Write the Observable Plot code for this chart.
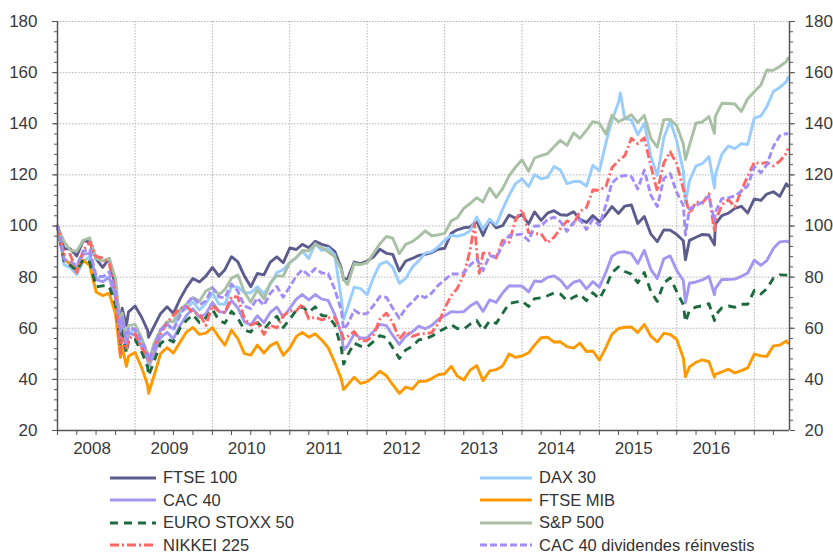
<!DOCTYPE html>
<html><head><meta charset="utf-8">
<script src="https://cdn.jsdelivr.net/npm/d3@7"></script>
<script src="https://cdn.jsdelivr.net/npm/@observablehq/plot@0.6"></script>
<style>
body{margin:0;background:#fff;font-family:"Liberation Sans",Arial,sans-serif;}
#chart{width:833px;height:555px;position:relative;overflow:hidden;}
#chart svg.plot{display:block;}
.legend{display:grid;grid-template-columns:370px 320px;margin-left:110px;padding-top:4.5px;}
.item{display:flex;align-items:center;height:22.5px;font-size:16.5px;color:#333;white-space:nowrap;}
.item svg{margin-right:7px;flex:none;}
</style></head><body><div id="chart"></div>
<script>
// ---- series metadata ----
const seriesNames = ["FTSE 100","DAX 30","CAC 40","FTSE MIB","EURO STOXX 50","S&P 500","NIKKEI 225","CAC 40 dividendes réinvestis"];
const seriesColors = ["#5c5c8e","#99ccff","#a397f2","#ff9900","#1d6b3e","#a8c0a4","#ff6666","#a28cf6"];
const seriesDash = [null,null,null,null,"8,6",null,"9,3,2,3","7,3"];

// ---- time points: start (base 100), each month close (plotted at next month's 1st), last point mid-June 2017 ----
const startDate = "2008-01-01";
const endDate = "2017-06-16";
const lastPoint = "2017-06-09";

// ---- values (base 100 = start of 2008) ----
const ftse100 = [100,
 91.1,91.1,88.3,94.3,93.8,87.1,83.8,87.3,75.9,67.8,66.4,68.7,
 64.3,59.3,60.8,65.7,68.4,65.8,71.4,76.0,79.5,78.1,80.4,83.8,
 80.4,82.9,88.0,86.0,80.4,76.2,81.4,80.9,85.9,87.9,85.6,91.4,
 90.8,92.8,91.5,94.0,92.8,92.1,90.1,83.6,79.4,85.9,85.3,86.3,
 88.0,90.9,89.3,88.9,82.4,86.3,87.3,88.5,88.9,89.6,90.9,91.3,
 97.2,98.5,99.3,99.6,102.0,96.3,102.5,99.3,100.1,104.3,103.0,104.5,
 100.8,105.5,102.2,105.0,106.0,104.4,104.2,105.6,102.6,101.4,104.1,101.7,
 104.5,107.6,104.9,107.8,108.2,101.0,103.7,96.8,93.9,98.5,98.4,96.7,
 94.2,94.4,95.6,96.7,96.5,100.7,104.1,105.0,106.9,107.7,105.1,110.6,
 110.0,112.5,113.4,111.6,116.5,115.6];
const dax30 = [100,
 84.9,83.7,81.0,86.1,88.0,79.6,80.3,79.6,72.3,61.8,57.9,59.6,
 53.8,47.6,50.6,59.1,61.3,59.6,66.1,67.7,70.3,67.1,69.7,73.8,
 69.5,69.4,76.3,76.1,73.9,73.9,76.2,73.4,77.2,81.8,82.9,85.7,
 87.7,90.1,87.3,93.1,90.4,91.4,88.7,71.7,68.2,76.1,75.5,73.1,
 80.1,85.0,86.1,83.8,77.6,79.5,83.9,86.4,89.4,90.0,91.8,94.4,
 96.4,96.0,96.6,98.1,103.5,98.7,102.6,100.4,106.5,112.0,116.6,118.4,
 115.4,120.1,118.5,119.0,123.3,121.9,116.6,117.4,117.4,115.6,123.7,121.6,
 132.6,141.3,148.3,142.0,141.5,135.7,140.2,127.2,119.8,134.5,141.1,133.2,
 121.5,117.7,123.5,124.4,127.2,120.0,128.1,131.3,130.3,132.2,131.9,142.3,
 143.0,146.7,152.6,154.2,156.4,158.1];
const cac40 = [100,
 86.7,85.3,83.8,89.0,89.3,79.0,78.2,79.9,71.8,62.1,58.1,57.3,
 52.8,48.0,50.0,56.3,58.4,55.9,61.0,65.1,67.6,64.3,65.6,70.1,
 66.6,66.1,70.8,68.0,62.5,61.3,64.9,62.2,66.2,68.3,64.3,67.8,
 71.4,73.2,71.1,73.2,71.4,70.9,65.4,58.0,53.1,57.8,56.2,56.3,
 58.8,61.5,61.0,57.2,53.7,56.9,58.6,60.8,59.8,61.1,63.4,64.9,
 66.5,66.3,66.5,68.7,70.3,66.6,71.1,70.1,73.8,76.6,76.5,76.5,
 74.2,78.5,78.2,79.9,80.5,78.8,75.6,78.0,78.7,75.4,78.2,76.1,
 82.0,88.2,89.7,89.9,89.2,85.3,90.5,82.9,79.4,87.2,88.3,82.6,
 78.7,77.6,78.1,78.9,80.3,75.5,79.1,79.1,79.2,80.3,81.6,86.6,
 84.6,86.5,91.2,93.8,94.1,93.8];
const ftseMib = [100,
 87.2,85.1,82.6,86.6,84.6,74.2,72.8,73.7,65.5,52.9,49.0,50.5,
 44.6,37.9,41.5,50.0,52.4,50.3,54.5,58.6,60.3,57.6,58.1,60.3,
 56.4,53.4,59.3,55.9,50.1,49.5,53.4,50.3,53.2,54.5,49.4,52.3,
 56.8,58.4,56.5,57.8,55.4,52.4,46.7,40.2,37.9,40.8,38.4,39.1,
 41.0,43.2,41.4,37.9,34.5,37.0,36.2,39.2,39.2,40.3,41.8,42.2,
 45.1,41.3,39.8,43.6,45.4,39.5,43.3,43.8,45.2,49.9,48.6,49.2,
 50.4,53.4,56.3,56.5,54.6,54.7,52.8,52.2,54.2,50.9,51.1,47.5,
 52.5,57.6,59.9,60.4,60.5,58.3,61.5,56.9,54.7,58.0,57.6,55.6,
 48.4,44.9,46.7,47.6,46.9,42.0,42.9,44.0,42.5,43.4,44.5,49.9,
 49.2,49.0,53.1,53.4,55.0,54.2];
const euroStoxx50 = [100,
 86.2,84.7,82.5,86.9,85.9,76.2,76.6,76.5,69.1,58.9,55.2,55.6,
 50.8,44.9,47.1,54.0,56.0,54.6,60.0,63.1,65.3,62.2,64.1,67.4,
 63.1,62.0,66.6,64.0,59.3,58.5,62.3,59.6,62.5,64.7,60.3,63.5,
 67.1,68.5,66.2,68.4,65.0,64.7,61.4,52.3,49.5,54.2,53.0,52.7,
 54.9,57.1,56.3,52.4,48.2,51.5,52.9,55.5,55.8,56.9,58.5,59.9,
 61.4,59.9,59.6,61.6,63.0,59.2,62.9,61.9,65.8,69.7,70.2,70.7,
 68.5,71.6,71.9,72.7,73.8,73.4,70.8,72.1,73.3,70.8,73.9,71.5,
 76.2,81.8,84.0,82.2,81.2,77.8,81.8,74.3,70.5,77.7,79.7,74.3,
 69.2,67.0,68.3,68.8,69.6,65.1,68.0,68.7,68.2,69.4,69.4,74.8,
 73.4,75.5,79.6,80.9,80.8,80.9];
const sp500 = [100,
 93.9,90.6,90.1,94.4,95.4,87.2,86.3,87.4,79.4,66.0,61.0,61.5,
 56.2,50.1,54.3,59.4,62.6,62.6,67.3,69.5,72.0,70.6,74.6,75.9,
 73.1,75.2,79.6,80.8,74.2,70.2,75.0,71.5,77.7,80.6,80.4,85.7,
 87.6,90.4,90.3,92.9,91.6,89.9,88.0,83.0,77.1,85.4,84.9,85.7,
 89.4,93.0,95.9,95.2,89.2,92.8,93.9,95.8,98.1,96.2,96.5,97.1,
 102.0,103.2,106.9,108.8,111.1,109.4,114.8,111.2,114.5,119.6,123.0,125.9,
 121.4,126.6,127.5,128.3,131.0,133.5,131.5,136.4,134.3,137.4,140.8,140.2,
 135.9,143.3,140.8,142.0,143.5,140.5,143.3,134.3,130.8,141.6,141.7,139.2,
 132.1,131.6,140.3,140.7,142.8,142.9,148.0,147.9,147.7,144.8,149.8,152.5,
 155.2,161.0,160.9,162.4,164.3,165.7];
const nikkei225 = [100,
 88.8,88.9,81.8,90.5,93.7,88.1,87.4,85.4,73.6,56.0,55.6,57.9,
 52.2,49.4,53.0,57.7,62.2,65.1,67.7,68.5,66.2,65.6,61.1,68.9,
 66.6,66.2,72.4,72.2,63.8,61.3,62.3,57.6,61.2,60.1,64.9,66.8,
 66.9,69.4,63.7,64.3,63.3,64.1,64.2,58.5,56.8,58.7,55.1,55.2,
 57.5,63.5,65.9,62.2,55.8,58.8,56.8,57.7,57.9,58.3,61.7,67.9,
 72.8,75.5,81.0,90.5,90.0,89.4,89.3,87.5,94.4,93.6,102.3,106.4,
 97.4,97.0,96.9,93.4,95.6,99.0,102.0,100.8,105.7,107.2,114.1,114.0,
 115.5,122.8,125.5,127.5,134.3,132.2,134.5,123.4,113.6,124.7,129.0,124.3,
 114.4,104.7,109.5,108.9,112.6,101.8,108.2,110.3,107.5,113.8,119.6,124.9,
 124.4,124.9,123.5,125.4,128.4,130.3];
const cac40Gr = [100,
 87.0,85.9,84.7,90.2,90.8,80.6,80.1,82.0,74.0,64.2,60.3,59.6,
 55.1,50.2,52.5,59.3,61.7,59.3,64.9,69.5,72.4,69.1,70.7,75.8,
 72.3,71.9,77.3,74.5,68.7,67.7,71.8,69.0,73.7,76.3,72.1,76.2,
 80.5,82.9,80.7,83.4,81.6,81.4,75.3,67.0,61.5,67.1,65.5,65.8,
 69.0,72.4,72.1,67.8,63.9,67.9,70.2,73.0,72.0,73.8,76.8,78.9,
 81.2,81.2,81.7,84.7,87.0,82.6,88.5,87.5,92.5,96.3,96.5,96.8,
 94.2,100.0,100.0,102.5,103.5,101.7,97.9,101.4,102.5,98.6,102.6,100.2,
 108.3,116.8,119.2,119.8,119.3,114.5,121.9,112.0,107.6,118.6,120.5,113.1,
 108.0,106.8,108.0,109.4,111.7,105.4,110.7,111.1,111.7,113.6,115.7,123.3,
 120.8,124.0,131.1,135.3,136.2,135.8];
const seriesValues = [ftse100,dax30,cac40,ftseMib,euroStoxx50,sp500,nikkei225,cac40Gr];

// ---- intra-month extremes visible in the weekly lines ----
const eventDates = ["2008-10-24","2008-11-21","2009-03-06","2011-09-12","2016-02-11","2016-06-27"];
const eventValues = [
 [61.5,61.0,56.5,79.0,86.8,92.6],   // FTSE 100
 [53.2,51.2,45.8,63.5,109.0,114.9], // DAX 30
 [56.9,52.5,45.1,51.5,70.0,73.1],   // CAC 40
 [48.5,45.1,34.5,36.0,41.0,40.8],   // FTSE MIB
 [53.8,50.3,41.5,46.0,62.5,63.0],   // EURO STOXX 50
 [59.7,54.5,46.5,79.0,126.0,136.2], // S&P 500
 [50.0,51.7,46.9,55.8,null,97.7],   // NIKKEI 225
 [58.8,54.3,47.3,59.6,96.5,102.0]   // CAC 40 dividendes réinvestis
];
const extraPoints = [
 {series:"NIKKEI 225", date:"2013-05-22", value:101.0},
 {series:"NIKKEI 225", date:"2013-06-13", value:81.5},
 {series:"DAX 30", date:"2015-04-10", value:152.0}
];

// ---- axis ticks ----
const yMajor = [20,40,60,80,100,120,140,160,180];
const yMinor = d3.range(20,181,4);
const yearLabels = ["2008","2009","2010","2011","2012","2013","2014","2015","2016"];
const yearBoundaries = ["2009","2010","2011","2012","2013","2014","2015","2016","2017"];

// ---- build table ----
const monthDates = d3.utcMonth.range(new Date(startDate), new Date("2017-06-02")).concat([new Date(lastPoint)]);
const rowsBySeries = seriesNames.map((name,i) => {
  const rows = seriesValues[i].map((v,j) => ({series:name, date:monthDates[j], value:v}));
  eventDates.forEach((d,k) => { const v = eventValues[i][k]; if (v != null) rows.push({series:name, date:new Date(d), value:v}); });
  extraPoints.filter(p => p.series === name).forEach(p => rows.push({series:name, date:new Date(p.date), value:p.value}));
  return rows.sort((a,b) => a.date - b.date);
});

const xDomain = [new Date(startDate), new Date(endDate)];
const axisColor = "#555";
const textColor = "#3a3a3a";
const gridStyle = {stroke:"#b4b4b4", strokeWidth:1, strokeDasharray:"1.5,1.5"};
const quarterTicks = d3.utcMonth.every(3).range(new Date(startDate), new Date(endDate));
const midYears = yearLabels.map(y => new Date(y + "-07-01"));

const chart = Plot.plot({
  width: 833, height: 462,
  marginLeft: 57, marginRight: 44, marginTop: 21, marginBottom: 32,
  style: {fontFamily: "'Liberation Sans', Arial, sans-serif", fontSize: "17px", color: textColor, background: "white"},
  x: {type: "utc", domain: xDomain, label: null},
  y: {domain: [20, 180], label: null},
  marks: [
    Plot.ruleY(yMajor.slice(1), gridStyle),
    Plot.ruleX(yearBoundaries.map(y => new Date(y + "-01-01")), gridStyle),
    ...seriesNames.map((name,i) => Plot.line(rowsBySeries[i], {
      x: "date", y: "value", stroke: seriesColors[i], strokeWidth: 2.9,
      strokeDasharray: seriesDash[i] || undefined, strokeLinejoin: "round", strokeLinecap: seriesDash[i] ? "butt" : "round"
    })),
    Plot.ruleX(xDomain, {stroke: axisColor, strokeWidth: 1.5}),
    Plot.ruleY([20], {stroke: axisColor, strokeWidth: 1.5}),
    Plot.axisY({anchor: "left", ticks: yMinor, tickSize: 3, tickFormat: () => "", stroke: axisColor, label: null}),
    Plot.axisY({anchor: "left", ticks: yMajor, tickSize: 5, tickPadding: 15, fontSize: 17, stroke: axisColor, fill: textColor, label: null}),
    Plot.axisY({anchor: "right", ticks: yMinor, tickSize: 3, tickFormat: () => "", stroke: axisColor, label: null}),
    Plot.axisY({anchor: "right", ticks: yMajor, tickSize: 5, tickPadding: 10, fontSize: 17, stroke: axisColor, fill: textColor, label: null}),
    Plot.axisX({ticks: quarterTicks, tickSize: 5, tickFormat: () => "", stroke: axisColor, label: null}),
    Plot.axisX({ticks: midYears, tickSize: 0, tickPadding: 11, tickFormat: d3.utcFormat("%Y"), fontSize: 17, fill: textColor, dx: -4, label: null})
  ]
});
chart.classList.add("plot");
const root = document.getElementById("chart");
root.appendChild(chart);

// ---- legend (row-major, two columns) ----
const legend = document.createElement("div");
legend.className = "legend";
seriesNames.forEach((name,i) => {
  const item = document.createElement("div");
  item.className = "item";
  const sw = d3.create("svg").attr("width", i % 2 ? 52 : 46).attr("height", 10);
  sw.append("line").attr("x1", 0).attr("x2", i % 2 ? 52 : 46).attr("y1", 5).attr("y2", 5)
    .attr("stroke", seriesColors[i]).attr("stroke-width", 3)
    .attr("stroke-dasharray", seriesDash[i]);
  item.appendChild(sw.node());
  const span = document.createElement("span");
  span.textContent = name;
  item.appendChild(span);
  legend.appendChild(item);
});
root.appendChild(legend);
</script></body></html>
